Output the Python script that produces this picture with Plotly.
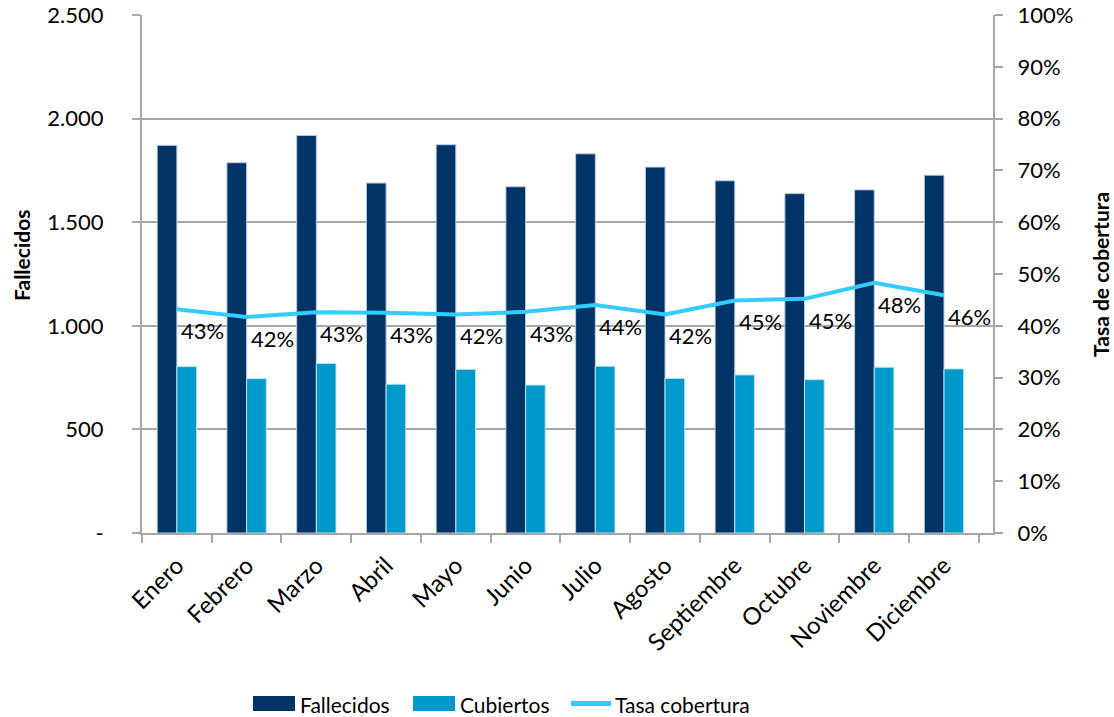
import plotly.graph_objects as go

meses = ["Enero", "Febrero", "Marzo", "Abril", "Mayo", "Junio", "Julio",
         "Agosto", "Septiembre", "Octubre", "Noviembre", "Diciembre"]
fallecidos = [1871, 1787, 1919, 1689, 1874, 1671, 1830, 1766, 1700, 1638, 1656, 1727]
cubiertos = [803, 745, 818, 718, 790, 714, 805, 746, 763, 740, 800, 792]
tasa = [0.432, 0.417, 0.426, 0.425, 0.422, 0.427, 0.440, 0.422, 0.449, 0.452, 0.483, 0.459]
tasa_labels = ["43%", "42%", "43%", "43%", "42%", "43%", "44%", "42%", "45%", "45%", "48%", "46%"]
left_ticks = [0, 500, 1000, 1500, 2000, 2500]
left_ticktext = ["-", "500", "1.000", "1.500", "2.000", "2.500"]
right_ticks = [i / 10 for i in range(11)]
right_ticktext = [f"{i*10}%" for i in range(11)]

FONT = "Lato, 'Open Sans', sans-serif"
GRID = "#A6A6A6"
DARK = "#003366"
MID = "#0099CC"
LIGHT = "#33CCFF"

W, H = 1114, 717
# plot area in page pixels: x 142..993, y 15..533
L, T = 142, 15
R = W - 993
B = H - 533
PW, PH = W - L - R, H - T - B


def px(x):  # page pixel -> paper x
    return (x - L) / PW


def py(y):  # page pixel -> paper y
    return (H - B - y) / PH


fig = go.Figure()
fig.add_trace(go.Bar(x=meses, y=fallecidos, name="Fallecidos",
                     marker=dict(color=DARK, line=dict(color="#B8CCE4", width=1))))
fig.add_trace(go.Bar(x=meses, y=cubiertos, name="Cubiertos",
                     marker=dict(color=MID, line=dict(color="#B8E4F4", width=1))))
fig.add_trace(go.Scatter(x=meses, y=tasa, name="Tasa cobertura", yaxis="y2",
                         mode="lines", line=dict(color=LIGHT, width=4)))

# manual legend (wide swatches as in the reference)
shapes = [
    dict(type="rect", xref="paper", yref="paper", x0=px(253), x1=px(295),
         y0=py(711), y1=py(696), fillcolor=DARK, line=dict(width=0)),
    dict(type="rect", xref="paper", yref="paper", x0=px(413), x1=px(455),
         y0=py(711), y1=py(696), fillcolor=MID, line=dict(width=0)),
    dict(type="line", xref="paper", yref="paper", x0=px(571), x1=px(611),
         y0=py(703.5), y1=py(703.5), line=dict(color=LIGHT, width=5)),
]
annotations = [
    dict(text="Fallecidos", xref="paper", yref="paper", x=px(298), y=py(704),
         xanchor="left", yanchor="middle", showarrow=False, font=dict(size=21)),
    dict(text="Cubiertos", xref="paper", yref="paper", x=px(458), y=py(704),
         xanchor="left", yanchor="middle", showarrow=False, font=dict(size=21)),
    dict(text="Tasa cobertura", xref="paper", yref="paper", x=px(613), y=py(704),
         xanchor="left", yanchor="middle", showarrow=False, font=dict(size=21)),
    dict(text="<b>Fallecidos</b>", xref="paper", yref="paper", x=px(22), y=py(256),
         xanchor="center", yanchor="middle", showarrow=False, textangle=-90,
         font=dict(size=21)),
    dict(text="<b>Tasa de cobertura</b>", xref="paper", yref="paper", x=px(1100), y=py(275),
         xanchor="center", yanchor="middle", showarrow=False, textangle=-90,
         font=dict(size=21)),
]
# data labels, below-right of each point of the rate line
for m, v, t in zip(meses, tasa, tasa_labels):
    annotations.append(dict(text=t, x=m, y=v, xref="x", yref="y2",
                            xanchor="left", yanchor="top", xshift=2, yshift=-6,
                            showarrow=False, font=dict(size=22, color="#000000")))

fig.update_layout(
    width=W, height=H,
    margin=dict(l=L, r=R, t=T, b=B, autoexpand=False),
    paper_bgcolor="white", plot_bgcolor="white",
    font=dict(family=FONT, size=22, color="#000000"),
    barmode="group", bargap=0.436, bargroupgap=0,
    showlegend=False,
    shapes=shapes, annotations=annotations,
    xaxis=dict(type="category", tickangle=-45, showline=True, linecolor=GRID,
               linewidth=2, ticks="outside", tickson="boundaries", ticklen=8,
               tickcolor=GRID, tickwidth=2, showgrid=False, automargin=False,
               ticklabelstandoff=7, tickfont=dict(size=24)),
    yaxis=dict(range=[0, 2500], tickvals=left_ticks, ticktext=left_ticktext,
               showgrid=True, gridcolor=GRID, gridwidth=2, showline=True,
               linecolor=GRID, linewidth=2, ticks="outside", ticklen=8,
               tickcolor=GRID, tickwidth=2, ticklabelstandoff=24,
               zeroline=False, automargin=False),
    yaxis2=dict(range=[0, 1], overlaying="y", side="right", tickvals=right_ticks,
                ticktext=right_ticktext, showgrid=False, showline=True,
                linecolor=GRID, linewidth=2, ticks="outside", ticklen=8,
                tickcolor=GRID, tickwidth=2, ticklabelstandoff=10, zeroline=False,
                automargin=False),
)

fig.write_html(
    "out.html",
    config={"displayModeBar": False},
    post_script="document.body.style.margin='0';document.body.style.overflow='hidden';",
)
